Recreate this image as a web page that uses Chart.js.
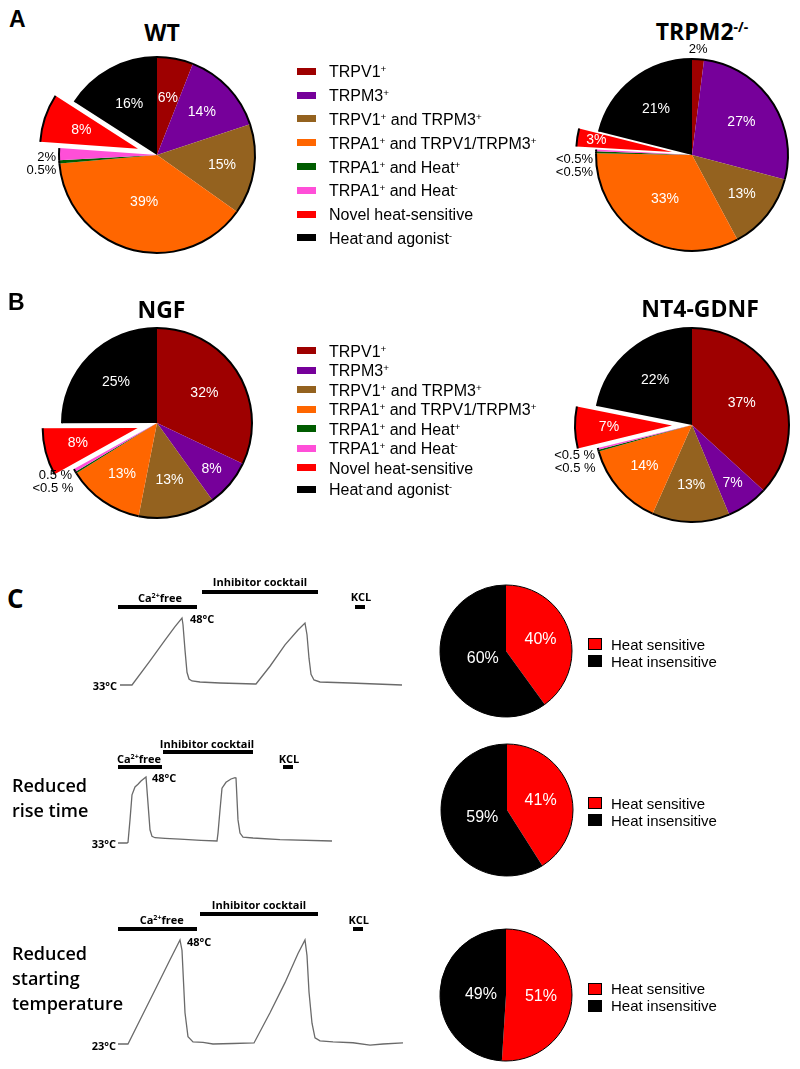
<!DOCTYPE html>
<html>
<head>
<meta charset="utf-8">
<script src="https://cdn.jsdelivr.net/npm/chart.js@4.4.0/dist/chart.umd.min.js"></script>
<style>
  html, body { margin: 0; padding: 0; background: #fff; }
  #fig { position: relative; width: 800px; height: 1069px; overflow: hidden; background: #fff; }
  canvas { position: absolute; }
  .t { position: absolute; white-space: nowrap; line-height: 1; color: #000; }
  .letter { font: bold 23px "Liberation Sans", Arial, sans-serif; }
  .letterC { font: bold 26px "Open Sans", sans-serif; }
  .title { font: bold 23px "Open Sans", sans-serif; }
  .leg { font: 16px "Liberation Sans", Arial, sans-serif; }
  .leg2 { font: 15px "Liberation Sans", Arial, sans-serif; }
  .ann { font: bold 11px "Open Sans", sans-serif; }
  .side { font: 600 18px "Open Sans", sans-serif; }
  sup { font-size: 0.62em; line-height: 0; position: relative; top: -0.5em; vertical-align: baseline; }
  .ann sup { font-size: 0.65em; }
  .title sup { font-size: 0.6em; top: -0.6em; }
  .sw { position: absolute; }
  .bar { position: absolute; height: 4px; background: #000; }
</style>
</head>
<body>
<div id="fig"></div>
<script>
// ---- data ----
const categories = ['TRPV1<sup>+</sup>', 'TRPM3<sup>+</sup>', 'TRPV1<sup>+</sup> and TRPM3<sup>+</sup>',
  'TRPA1<sup>+</sup> and TRPV1/TRPM3<sup>+</sup>', 'TRPA1<sup>+</sup> and Heat<sup>+</sup>',
  'TRPA1<sup>+</sup> and Heat<sup>-</sup>', 'Novel heat-sensitive', 'Heat<sup>-</sup>and agonist<sup>-</sup>'];
const sliceColors = ['#9e0000', '#76009a', '#94621f', '#ff6600', '#005c00', '#ff4fd8', '#ff0000', '#000000'];

const wtValues = [6, 14, 15, 39, 0.5, 2, 8, 16];
const wtLabels = ['6%', '14%', '15%', '39%', '0.5%', '2%', '8%', '16%'];
const trpm2Values = [2, 27, 13, 33, 0.3, 0.3, 3, 21];
const trpm2Labels = ['2%', '27%', '13%', '33%', '<0.5%', '<0.5%', '3%', '21%'];
const ngfValues = [32, 8, 13, 13, 0.3, 0.5, 8, 25];
const ngfLabels = ['32%', '8%', '13%', '13%', '<0.5 %', '0.5 %', '8%', '25%'];
const nt4Values = [37, 7, 13, 14, 0.3, 0.3, 7, 22];
const nt4Labels = ['37%', '7%', '13%', '14%', '<0.5 %', '<0.5 %', '7%', '22%'];

const heatCategories = ['Heat sensitive', 'Heat insensitive'];
const heatColors = ['#ff0000', '#000000'];
const riseValues = [40, 60];
const fastValues = [41, 59];
const coldValues = [51, 49];

// traces: time (s) and normalised response
const trace1Time = [20, 42, 44, 80, 110, 130, 144, 146, 150, 154, 158, 164, 180, 220, 290, 292, 320, 350, 376, 390, 394, 398, 402, 408, 420, 480, 584];
const trace1Ratio = [0, 0, 0, 0.36, 0.67, 0.87, 1.0, 0.9, 0.52, 0.19, 0.09, 0.06, 0.045, 0.03, 0.015, 0.015, 0.28, 0.6, 0.82, 0.925, 0.75, 0.4, 0.16, 0.075, 0.045, 0.03, 0];
const trace2Time = [16, 34, 36, 40, 44, 50, 56, 62, 70, 72, 76, 80, 84, 90, 110, 140, 182, 214, 216, 220, 224, 232, 242, 250, 252, 256, 260, 266, 286, 340, 444];
const trace2Ratio = [0, 0, 0.01, 0.35, 0.73, 0.85, 0.89, 0.94, 0.99, 1.0, 0.6, 0.2, 0.1, 0.08, 0.07, 0.06, 0.04, 0.03, 0.15, 0.5, 0.83, 0.92, 0.97, 0.99, 0.985, 0.35, 0.15, 0.09, 0.076, 0.05, 0.03];
const trace3Time = [16, 36, 60, 90, 120, 140, 144, 150, 156, 166, 186, 206, 246, 288, 320, 350, 376, 390, 394, 398, 404, 410, 420, 446, 486, 520, 546, 586];
const trace3Ratio = [0, 0, 0.23, 0.52, 0.81, 1.0, 0.9, 0.3, 0.07, 0.02, 0.015, 0, 0.005, 0.01, 0.3, 0.59, 0.87, 1.0, 0.85, 0.5, 0.2, 0.06, 0.03, 0.02, 0.012, -0.01, 0, 0.01];

// ---- helpers ----
const fig = document.getElementById('fig');

function txt(html, x, y, cls, align) {
  const d = document.createElement('div');
  d.className = 't ' + cls;
  d.innerHTML = html;
  d.style.left = x + 'px';
  d.style.top = y + 'px';
  const tx = align === 'right' ? '-100%' : (align === 'left' ? '0' : '-50%');
  d.style.transform = 'translate(' + tx + ',-50%)';
  fig.appendChild(d);
}
function bar(x0, x1, y) {
  const d = document.createElement('div');
  d.className = 'bar';
  d.style.left = x0 + 'px';
  d.style.width = (x1 - x0) + 'px';
  d.style.top = (y - 2) + 'px';
  fig.appendChild(d);
}
function swatch(x, y, w, h, color, border) {
  const d = document.createElement('div');
  d.className = 'sw';
  d.style.left = x + 'px';
  d.style.top = (y - h / 2) + 'px';
  d.style.width = w + 'px';
  d.style.height = h + 'px';
  d.style.background = color;
  if (border) { d.style.boxSizing = 'border-box'; d.style.border = '1px solid #000'; }
  fig.appendChild(d);
}
function makeCanvas(left, top, w, h) {
  const c = document.createElement('canvas');
  c.width = w; c.height = h;
  c.style.left = left + 'px'; c.style.top = top + 'px';
  c.style.width = w + 'px'; c.style.height = h + 'px';
  fig.appendChild(c);
  return c;
}

// slice labels, outer edge and exploded slices
const pieExtras = {
  id: 'pieExtras',
  afterUpdate(chart, args, opts) {
    const arcs = chart.getDatasetMeta(0).data;
    (opts.explode || []).forEach((d, i) => {
      if (!d || !arcs[i]) return;
      const a = arcs[i];
      const mid = (a.startAngle + a.endAngle) / 2;
      a.x += Math.cos(mid) * d;
      a.y += Math.sin(mid) * d;
    });
  },
  afterDatasetsDraw(chart, args, opts) {
    const ctx = chart.ctx;
    const arcs = chart.getDatasetMeta(0).data;
    ctx.save();
    ctx.strokeStyle = '#000';
    ctx.lineWidth = opts.edge || 2;
    arcs.forEach(a => {
      ctx.beginPath();
      ctx.arc(a.x, a.y, a.outerRadius, a.startAngle, a.endAngle);
      ctx.stroke();
    });
    const texts = opts.texts || [];
    const pos = opts.pos || [];
    const outside = [];
    ctx.textBaseline = 'middle';
    ctx.font = opts.font;
    ctx.fillStyle = '#fff';
    ctx.textAlign = 'center';
    arcs.forEach((a, i) => {
      const t = texts[i];
      if (!t) return;
      const mid = (a.startAngle + a.endAngle) / 2;
      if (pos[i] === 'out') {
        const r = a.outerRadius + (opts.gap || 3);
        outside.push({ t, x: a.x + Math.cos(mid) * r, y: a.y + Math.sin(mid) * r, c: Math.cos(mid), s: Math.sin(mid) });
        return;
      }
      const r = a.outerRadius * pos[i];
      ctx.fillText(t, a.x + Math.cos(mid) * r, a.y + Math.sin(mid) * r);
    });
    ctx.font = opts.outFont || opts.font;
    ctx.fillStyle = '#000';
    const left = outside.filter(o => o.c < -0.3).sort((a, b) => a.y - b.y);
    const lineH = opts.lineH || 13;
    left.forEach((o, i) => {
      if (i > 0 && o.y < left[i - 1].y + lineH) o.y = left[i - 1].y + lineH;
    });
    left.forEach(o => {
      ctx.textAlign = 'right';
      ctx.fillText(o.t, o.x, o.y + (opts.dy || 0));
    });
    outside.filter(o => o.c >= -0.3).forEach(o => {
      ctx.textAlign = Math.abs(o.c) < 0.3 ? 'center' : 'left';
      ctx.fillText(o.t, o.x, o.y + (o.s < 0 ? -7 : 7));
    });
    ctx.restore();
  }
};

function pie(cx, cy, size, radius, values, colors, extras) {
  const c = makeCanvas(cx - size / 2, cy - size / 2, size, size);
  new Chart(c, {
    type: 'pie',
    data: { datasets: [{ data: values, backgroundColor: colors, borderWidth: 0, radius: radius }] },
    options: {
      responsive: false, animation: false, events: [],
      layout: { padding: 0 },
      plugins: { legend: { display: false }, tooltip: { enabled: false }, pieExtras: extras }
    },
    plugins: [pieExtras]
  });
}

function trace(left, top, w, h, baseline, peak, time, ratio) {
  const c = makeCanvas(left, top, w, h);
  const unit = baseline - peak;
  const ymax = (baseline - top) / unit;
  new Chart(c, {
    type: 'line',
    data: { datasets: [{
      data: time.map((t, i) => ({ x: t, y: ratio[i] })),
      borderColor: '#6a6a6a', borderWidth: 1.3, pointRadius: 0,
      tension: 0, clip: false
    }] },
    options: {
      responsive: false, animation: false, events: [],
      layout: { padding: 0 },
      plugins: { legend: { display: false }, tooltip: { enabled: false } },
      scales: {
        x: { type: 'linear', display: false, min: 0, max: 600 },
        y: { display: false, min: ymax - h / unit, max: ymax }
      }
    }
  });
}

const bigFont = '14px "Liberation Sans", Arial, sans-serif';
const outFont = '13px "Liberation Sans", Arial, sans-serif';
const explode = [0, 0, 0, 0, 0, 0, 20, 0];

// ---- panel A ----
txt('A', 9, 18.5, 'letter', 'left');
txt('WT', 162, 32, 'title');
txt('TRPM2<sup>-/-</sup>', 702, 31, 'title');
pie(157, 155, 300, 98, wtValues, sliceColors, {
  explode, texts: wtLabels, font: bigFont, outFont, dy: 3,
  pos: [0.59, 0.63, 0.67, 0.5, 'out', 'out', 0.61, 0.59]
});
pie(692, 155, 300, 96, trpm2Values, sliceColors, {
  explode, texts: trpm2Labels, font: bigFont, outFont, dy: 9.5,
  pos: ['out', 0.62, 0.66, 0.54, 'out', 'out', 0.8, 0.61]
});

// ---- panel B ----
txt('B', 8, 302, 'letter', 'left');
txt('NGF', 161.5, 308.5, 'title');
txt('NT4-GDNF', 700, 308, 'title');
pie(157, 423, 300, 95, ngfValues, sliceColors, {
  explode, texts: ngfLabels, font: bigFont, outFont, dy: 4,
  pos: [0.59, 0.75, 0.62, 0.65, 'out', 'out', 0.65, 0.61]
});
pie(692, 425, 300, 97, nt4Values, sliceColors, {
  explode, texts: nt4Labels, font: bigFont, outFont, dy: 6,
  pos: [0.56, 0.73, 0.62, 0.65, 'out', 'out', 0.65, 0.6]
});

// legends A and B
function bigLegend(first, rowH, lastExtra) {
  categories.forEach((c, i) => {
    const y = first + i * rowH + (i === categories.length - 1 ? lastExtra : 0);
    swatch(297, y - 1, 19, 7, sliceColors[i]);
    txt(c, 329, y, 'leg', 'left');
  });
}
bigLegend(72.3, 23.8, 0);
bigLegend(351.7, 19.5, 2);

// ---- panel C ----
txt('C', 7, 597.5, 'letterC', 'left');

function heatLegend(y0) {
  heatCategories.forEach((c, i) => {
    const y = y0 + i * 17;
    swatch(588, y + 0.5, 14, 12, heatColors[i], true);
    txt(c, 611, y, 'leg2', 'left');
  });
}
const smallFont = '16px "Liberation Sans", Arial, sans-serif';

// trace 1
trace(110, 600, 300, 100, 685, 618, trace1Time, trace1Ratio);
bar(118, 197, 607); bar(202, 318, 592); bar(355, 365, 607);
txt('Ca<sup>2+</sup>free', 160, 596.5, 'ann');
txt('Inhibitor cocktail', 260, 581, 'ann');
txt('KCL', 361, 596, 'ann');
txt('48°C', 190, 618, 'ann', 'left');
txt('33°C', 117, 685, 'ann', 'right');
pie(506, 651, 170, 66, riseValues, heatColors, { texts: ['40%', '60%'], font: smallFont, edge: 1, pos: [0.55, 0.37] });
heatLegend(643.5);

// trace 2
trace(110, 760, 300, 100, 843, 777, trace2Time, trace2Ratio);
bar(118, 162, 766.7); bar(163, 253, 752.3); bar(283, 293, 766.7);
txt('Ca<sup>2+</sup>free', 139, 758, 'ann');
txt('Inhibitor cocktail', 207, 743, 'ann');
txt('KCL', 289, 758, 'ann');
txt('48°C', 152, 777, 'ann', 'left');
txt('33°C', 116, 843, 'ann', 'right');
txt('Reduced', 12, 784.5, 'side', 'left');
txt('rise time', 12, 809.5, 'side', 'left');
pie(506.5, 809.5, 170, 66, fastValues, heatColors, { texts: ['41%', '59%'], font: smallFont, edge: 1, pos: [0.53, 0.39] });
heatLegend(802.5);

// trace 3
trace(110, 925, 300, 135, 1044, 940, trace3Time, trace3Ratio);
bar(118, 197, 928.7); bar(200, 318, 913.7); bar(353, 363, 928.7);
txt('Ca<sup>2+</sup>free', 161.7, 919, 'ann');
txt('Inhibitor cocktail', 259, 904, 'ann');
txt('KCL', 358.7, 919, 'ann');
txt('48°C', 187, 941, 'ann', 'left');
txt('23°C', 116, 1045, 'ann', 'right');
txt('Reduced', 12, 953.3, 'side', 'left');
txt('starting', 12, 978.3, 'side', 'left');
txt('temperature', 12, 1003.3, 'side', 'left');
pie(506, 995, 170, 66, coldValues, heatColors, { texts: ['51%', '49%'], font: smallFont, edge: 1, pos: [0.53, 0.38] });
heatLegend(988);
</script>
</body>
</html>
